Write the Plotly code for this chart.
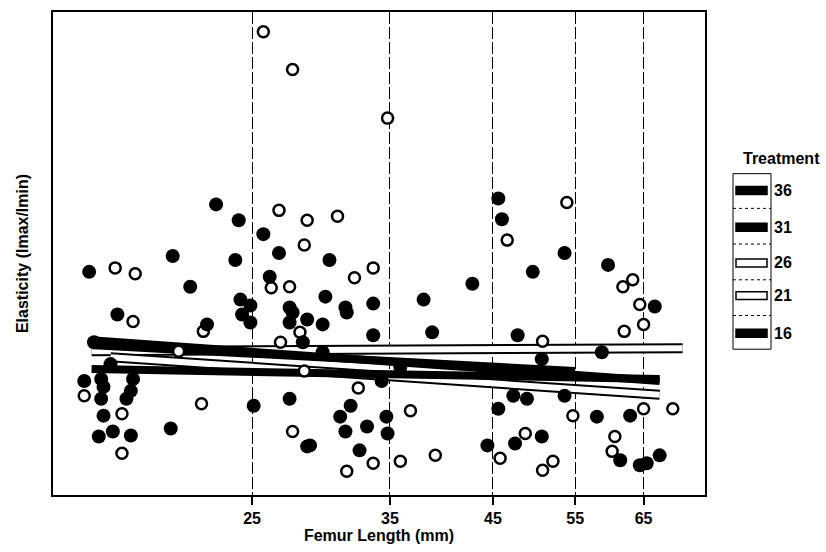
import plotly.graph_objects as go

# ---------------- data ----------------
# Femur length (mm) and elasticity (arbitrary units, lmax/lmin index)
# Filled markers: treatments 36, 31, 16 (printed identically in black)
filled_x = [22.9, 24.2, 25.7, 16.8, 20.6, 21.5, 24.0, 26.7, 30.2, 26.1,
            29.9, 24.3, 24.9, 27.4, 31.4, 33.6, 38.0, 42.8, 45.6, 46.0,
            49.6, 53.6, 59.6, 66.8, 31.5, 28.6, 29.7, 33.6, 38.8, 47.8,
            18.0, 24.4, 24.9, 22.4, 27.6, 27.4, 28.3, 17.0, 17.7, 29.7,
            35.9, 34.3, 50.7, 58.7, 48.0, 16.6, 17.3, 17.4, 18.7, 18.6,
            17.3, 18.4, 25.1, 27.4, 17.4, 17.2, 17.8, 18.6, 20.5, 28.6,
            47.3, 48.9, 45.6, 53.6, 58.0, 62.9, 31.8, 31.0, 33.1, 34.7,
            34.8, 31.4, 28.8, 32.5, 44.4, 47.5, 50.7, 61.4, 64.4, 65.5,
            67.6]
filled_y = [2.93, 2.77, 2.63, 2.25, 2.41, 2.10, 2.37, 2.44, 2.37, 2.20,
            2.00, 1.97, 1.91, 1.89, 1.89, 1.93, 1.97, 2.13, 2.99, 2.78,
            2.25, 2.44, 2.32, 1.90, 1.84, 1.77, 1.72, 1.61, 1.64, 1.61,
            1.82, 1.82, 1.74, 1.72, 1.84, 1.74, 1.54, 1.54, 1.32, 1.44,
            1.29, 1.15, 1.37, 1.44, 1.24, 1.15, 1.17, 1.09, 1.17, 1.05,
            0.97, 0.97, 0.90, 0.97, 0.80, 0.59, 0.64, 0.60, 0.67, 0.49,
            1.00, 0.97, 0.87, 1.00, 0.79, 0.80, 0.90, 0.79, 0.69, 0.79,
            0.62, 0.64, 0.50, 0.45, 0.50, 0.52, 0.59, 0.35, 0.30, 0.32,
            0.40]

# Open markers: treatments 26, 21
open_x = [25.7, 27.6, 34.8, 26.7, 28.6, 30.8, 28.4, 17.9, 18.8, 26.2,
          27.4, 32.1, 33.6, 46.6, 53.9, 61.8, 63.3, 64.4, 62.0, 65.0,
          18.7, 22.2, 28.1, 26.8, 20.9, 16.6, 22.1, 18.2, 18.2, 27.6,
          32.4, 28.4, 50.8, 36.8, 33.6, 35.9, 31.5, 39.1, 48.7, 45.8,
          52.1, 50.8, 54.7, 65.0, 69.8, 60.6, 60.2]
open_y = [4.67, 4.29, 3.80, 2.87, 2.77, 2.81, 2.52, 2.29, 2.23, 2.09,
          2.10, 2.19, 2.29, 2.57, 2.95, 2.10, 2.17, 1.92, 1.65, 1.72,
          1.75, 1.65, 1.64, 1.54, 1.45, 1.00, 0.92, 0.82, 0.42, 0.64,
          1.08, 1.25, 1.55, 0.85, 0.32, 0.34, 0.24, 0.40, 0.62, 0.37,
          0.34, 0.25, 0.80, 0.87, 0.87, 0.59, 0.44]

# Fitted treatment lines (end points)
treatments = ["36", "31", "26", "21", "16"]
line_x = {"36": [16.9, 67.6], "31": [16.9, 67.6], "26": [16.9, 71.5],
          "21": [17.7, 67.6], "16": [17.0, 55.0]}
line_y = {"36": [1.56, 1.15], "31": [1.27, 1.17], "26": [1.45, 1.48],
          "21": [1.39, 1.01], "16": [1.51, 1.25]}
line_fill = {"36": "black", "31": "black", "26": "white", "21": "white", "16": "black"}

tick_vals = [25, 35, 45, 55, 65]
tick_text = ["25", "35", "45", "55", "65"]

# ---------------- figure ----------------
W, H = 826, 552
ML, MR, MT, MB = 53, 121, 10, 55
PW, PH = W - ML - MR, H - MT - MB

FONT = "Liberation Sans"

fig = go.Figure()

# white lines first (outlined), then black lines
for t in ["26", "21"]:
    fig.add_trace(go.Scatter(x=line_x[t], y=line_y[t], mode="lines",
                             line=dict(color="black", width=10),
                             hoverinfo="skip", showlegend=False))
    fig.add_trace(go.Scatter(x=line_x[t], y=line_y[t], mode="lines",
                             line=dict(color="white", width=6),
                             name=t, showlegend=False))
for t in ["16", "31", "36"]:
    fig.add_trace(go.Scatter(x=line_x[t], y=line_y[t], mode="lines",
                             line=dict(color="black", width=8),
                             name=t, showlegend=False))

fig.add_trace(go.Scatter(x=open_x, y=open_y, mode="markers",
                         marker=dict(symbol="circle", size=11, color="white",
                                     line=dict(color="black", width=2.5)),
                         showlegend=False, name="26/21"))
fig.add_trace(go.Scatter(x=filled_x, y=filled_y, mode="markers",
                         marker=dict(symbol="circle", size=14, color="black",
                                     line=dict(width=0)),
                         showlegend=False, name="36/31/16"))


def px(xp):
    return (xp - ML) / PW


def py(yp):
    return (H - MB - yp) / PH


shapes = []
annotations = []

# manual legend
annotations.append(dict(x=px(781), y=py(158), xref="paper", yref="paper",
                        text="Treatment", showarrow=False,
                        font=dict(family=FONT, size=16, color="black", weight="bold"),
                        xanchor="center", yanchor="middle"))
shapes.append(dict(type="rect", xref="paper", yref="paper",
                   x0=px(733), x1=px(771), y0=py(173), y1=py(350),
                   line=dict(color="black", width=1), fillcolor="rgba(0,0,0,0)"))
for sy in [208, 244, 280, 316]:
    shapes.append(dict(type="line", xref="paper", yref="paper",
                       x0=px(733), x1=px(771), y0=py(sy), y1=py(sy),
                       line=dict(color="black", width=1, dash="dot")))
leg_y = {"36": 190, "31": 227, "26": 263, "21": 296, "16": 334}
for t in treatments:
    yc = leg_y[t]
    shapes.append(dict(type="rect", xref="paper", yref="paper",
                       x0=px(736), x1=px(767), y0=py(yc + 4), y1=py(yc - 4),
                       line=dict(color="black", width=1.5),
                       fillcolor=line_fill[t]))
    annotations.append(dict(x=px(772), y=py(yc), xref="paper", yref="paper",
                            text=t, showarrow=False,
                            font=dict(family=FONT, size=16, color="black", weight="bold"),
                            xanchor="left", yanchor="middle"))

fig.update_layout(
    width=W, height=H,
    margin=dict(l=ML, r=MR, t=MT, b=MB),
    paper_bgcolor="white", plot_bgcolor="white",
    showlegend=False,
    shapes=shapes, annotations=annotations,
    font=dict(family=FONT, color="black"),
    xaxis=dict(type="log", range=[1.187, 1.878],
               tickmode="array", tickvals=tick_vals, ticktext=tick_text,
               ticks="outside", ticklen=8, tickwidth=1.5, tickcolor="black",
               tickfont=dict(family=FONT, size=16, color="black", weight="bold"),
               showline=True, linecolor="black", linewidth=2, mirror=True,
               showgrid=True, gridcolor="black", gridwidth=1, griddash="12px,3px",
               zeroline=False,
               title=dict(text="Femur Length (mm)", standoff=4,
                          font=dict(family=FONT, size=16, color="black", weight="bold"))),
    yaxis=dict(range=[0, 4.87], showticklabels=False, ticks="",
               showline=True, linecolor="black", linewidth=2, mirror=True,
               showgrid=False, zeroline=False,
               title=dict(text="Elasticity (lmax/lmin)", standoff=18,
                          font=dict(family=FONT, size=16, color="black", weight="bold"))),
)

fig.write_html("out.html")
